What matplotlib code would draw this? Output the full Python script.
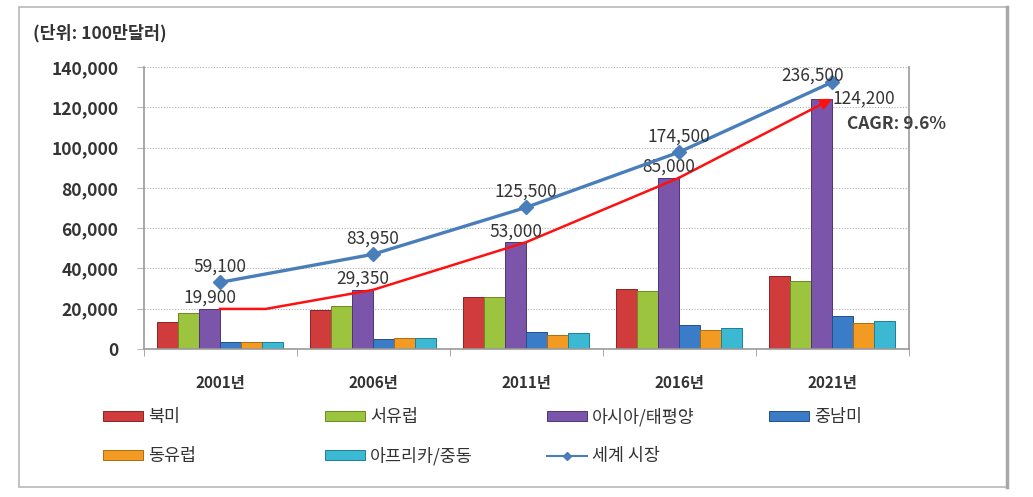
import matplotlib.pyplot as plt
import numpy as np
from matplotlib.patches import Rectangle
from matplotlib.lines import Line2D

plt.rcParams['font.family'] = ['Noto Sans CJK KR', 'DejaVu Sans']

# data (단위: 100만달러)
years = ['2001년', '2006년', '2011년', '2016년', '2021년']
regions = ['북미', '서유럽', '아시아/태평양', '중남미', '동유럽', '아프리카/중동']
north_america = [13500, 19300, 25800, 29900, 36100]
west_europe = [17900, 21300, 25700, 29000, 33600]
asia_pacific = [19900, 29350, 53000, 85000, 124200]
latin_america = [3300, 5000, 8200, 11700, 16600]
east_europe = [3500, 5300, 7100, 9500, 13000]
africa_me = [3300, 5400, 7700, 10300, 13800]
world = [59100, 83950, 125500, 174500, 236500]
world_name = '세계 시장'
cagr_text = 'CAGR: 9.6%'

series = [north_america, west_europe, asia_pacific, latin_america, east_europe, africa_me]
colors = ['#d03c3c', '#9dc43e', '#7b55a9', '#3b7cc9', '#f39a22', '#3bb9d2']
edges = ['#8e2222', '#6a8a22', '#4f3477', '#244f88', '#b06a10', '#217f92']
line_color = '#4a7ebb'

W, H = 1033, 497
fig = plt.figure(figsize=(W / 100, H / 100), dpi=100)
ax = fig.add_axes([143.5 / W, (H - 349) / H, 765 / W, 282 / H])

x = np.arange(len(years))
w = 0.137
for k, vals in enumerate(series):
    ax.bar(x + (k - 2.5) * w, vals, w, color=colors[k], edgecolor=edges[k],
           linewidth=0.7, zorder=2)

ax.set_xlim(-0.5, len(years) - 0.5)
ax.set_ylim(0, 140000)
yt = np.arange(0, 140001, 20000)
ax.set_yticks(yt)
ax.set_yticklabels([f'{v:,}' for v in yt], fontsize=12.5, fontweight='bold', color='#333333')
ax.set_xticks(x)
ax.set_xticklabels(years, fontsize=11, fontweight='bold', color='#333333')
ax.set_xticks(np.arange(-0.5, len(years), 1), minor=True)
ax.tick_params(axis='x', which='major', length=0, pad=19)
ax.tick_params(axis='x', which='minor', length=5, color='#999999')
ax.tick_params(axis='y', length=5, color='#bbbbbb', pad=13)
ax.yaxis.grid(True, linestyle=(0, (1, 1.5)), color='#b0b0b0', lw=0.8)
ax.set_axisbelow(True)
ax.spines['top'].set_visible(False)
for s in ['left', 'bottom', 'right']:
    ax.spines[s].set_color('#999999')
    ax.spines[s].set_linewidth(1.2)

# asia labels
for i, v in enumerate(asia_pacific):
    if i == len(years) - 1:
        ax.annotate(f'{v:,}', (i, v), xytext=(0, 0), textcoords='offset points',
                    ha='left', va='center', fontsize=12.5, color='#333333', zorder=5)
    else:
        ax.annotate(f'{v:,}', (i - 0.5 * w, v), xytext=(0, 8), textcoords='offset points',
                    ha='center', va='center', fontsize=12.5, color='#333333', zorder=5)

# red trend arrow over asia bars
ax.plot([0, 0.3] + list(x[1:-1]), [asia_pacific[0], asia_pacific[0]] + asia_pacific[1:-1],
        color='#ff1010', lw=1.8, zorder=4)
ax.annotate('', xy=(x[-1], asia_pacific[-1]), xytext=(x[-2], asia_pacific[-2]),
            arrowprops=dict(arrowstyle='-|>', color='#ff1010', lw=1.8,
                            mutation_scale=16, shrinkA=0, shrinkB=0),
            zorder=4)

ax.text(4.42, 111600, cagr_text, ha='center', va='center', fontsize=12.5,
        fontweight='bold', color='#404040')

# world market on hidden secondary scale
ax2 = ax.twinx()
ax2.set_ylim(0, 250000)
ax2.set_yticks([])
for s in ax2.spines.values():
    s.set_visible(False)
ax2.plot(x, world, color=line_color, lw=2.4, marker='D', markersize=7, zorder=3)
for i, v in enumerate(world):
    if i == len(years) - 1:
        off = (-14, 5)
    else:
        off = (0, 11.5)
    ax2.annotate(f'{v:,}', (i, v), xytext=off, textcoords='offset points',
                 ha='center', va='center', fontsize=12.5, color='#333333')

fig.text(33 / W, (H - 33) / H, '(단위: 100만달러)', fontsize=12.5, fontweight='bold',
         ha='left', va='center', color='#333333')

# legend, 4 columns x 2 rows
handles = [Rectangle((0, 0), 1, 1, facecolor=colors[k], edgecolor=edges[k], lw=0.7)
           for k in range(6)]
handles.append(Line2D([], [], color=line_color, lw=1.5, marker='D', markersize=4))
labels = regions + [world_name]
cols = [[0, 4], [1, 5], [2, 6], [3]]
col_x = [103, 325, 547, 769]
for c, idx in enumerate(cols):
    fig.legend([handles[i] for i in idx], [labels[i] for i in idx],
               loc='upper left', bbox_to_anchor=(col_x[c] / W, (H - 408) / H),
               frameon=False, fontsize=12.5, handlelength=2.3, handleheight=0.5,
               handletextpad=0.3, labelspacing=1.2, borderpad=0, borderaxespad=0,
               labelcolor='#333333')

# outer frame
fig.add_artist(Rectangle((19 / W, (H - 487) / H), 988 / W, 480 / H,
                         transform=fig.transFigure, fill=False,
                         edgecolor='#b8b8b8', lw=1.2))
fig.add_artist(Line2D([1007 / W, 1007 / W], [(H - 487) / H, (H - 7) / H],
                      transform=fig.transFigure, color='#a8a8a8', lw=2.5))

fig.savefig('out.png', dpi=100)
